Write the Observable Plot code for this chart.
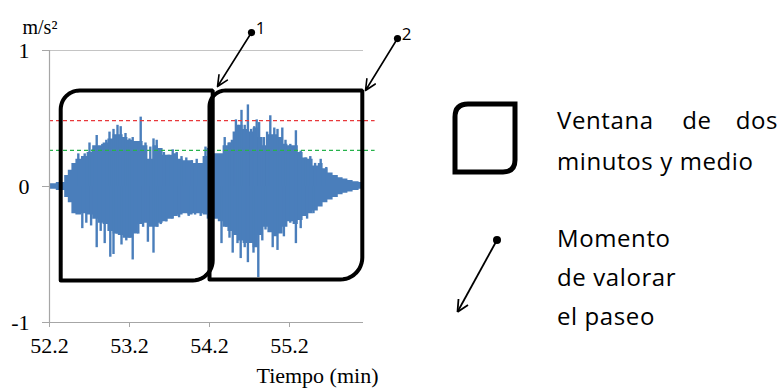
<!DOCTYPE html>
<html>
<head>
<meta charset="utf-8">
<script src="https://cdn.jsdelivr.net/npm/d3@7"></script>
<script src="https://cdn.jsdelivr.net/npm/@observablehq/plot@0.6"></script>
<style>
  html, body { margin: 0; padding: 0; background: #fff; }
  #wrap { position: relative; width: 779px; height: 388px; overflow: hidden; }
  #legend { position: absolute; left: 0; top: 0; pointer-events: none; }
</style>
</head>
<body>
<div id="wrap">
  <div id="chart"></div>
  <svg id="legend" width="779" height="388"></svg>
</div>
<script>
// ---------- data ----------
// envelope of the dense acceleration signal (minutes, m/s²)
const bodyTime = [52.2, 52.37, 52.41, 52.46, 52.5, 52.56, 52.64, 52.7, 52.78, 52.84, 52.9, 52.96, 53.03, 53.09, 53.15, 53.21, 53.28, 53.34, 53.4, 53.46, 53.53, 53.59, 53.65, 53.71, 53.78, 53.84, 53.9, 53.96, 54.03, 54.09, 54.15, 54.2,
                  54.28, 54.34, 54.4, 54.46, 54.53, 54.59, 54.65, 54.71, 54.78, 54.84, 54.9, 54.96, 55.03, 55.09, 55.15, 55.21, 55.28, 55.34, 55.4, 55.46, 55.53, 55.59, 55.65, 55.71, 55.78, 55.84, 55.9, 55.96, 56.03, 56.11, 56.12];
const bodyHigh = [0.02, 0.03, 0.08, 0.12, 0.17, 0.2, 0.22, 0.25, 0.3, 0.3, 0.32, 0.35, 0.38, 0.38, 0.36, 0.34, 0.33, 0.33, 0.3, 0.2, 0.3, 0.28, 0.23, 0.23, 0.24, 0.2, 0.19, 0.19, 0.17, 0.17, 0.22, 0.27,
                  0.24, 0.24, 0.3, 0.32, 0.4, 0.45, 0.42, 0.4, 0.43, 0.36, 0.3, 0.38, 0.38, 0.36, 0.31, 0.3, 0.3, 0.25, 0.21, 0.2, 0.15, 0.17, 0.13, 0.1, 0.08, 0.065, 0.055, 0.045, 0.035, 0.03, 0.03];
const bodyLow  = [-0.02, -0.03, -0.08, -0.12, -0.2, -0.21, -0.2, -0.21, -0.24, -0.27, -0.28, -0.33, -0.35, -0.36, -0.38, -0.38, -0.35, -0.28, -0.27, -0.3, -0.3, -0.27, -0.26, -0.24, -0.22, -0.21, -0.2, -0.21, -0.2, -0.2, -0.21, -0.23,
                  -0.24, -0.26, -0.3, -0.33, -0.36, -0.4, -0.42, -0.42, -0.45, -0.36, -0.3, -0.34, -0.37, -0.35, -0.3, -0.26, -0.28, -0.25, -0.22, -0.2, -0.18, -0.15, -0.12, -0.1, -0.08, -0.06, -0.05, -0.04, -0.03, -0.02, -0.02];

// individual peaks above zero
const peakUpTime  = [52.56, 52.64, 52.7, 52.74, 52.79, 52.86, 52.91, 52.95, 53.0, 53.05, 53.09, 53.15, 53.2, 53.24, 53.29, 53.34, 53.4, 53.46, 53.5, 53.54, 53.63, 53.69, 53.74, 53.79, 53.85, 53.91, 53.98, 54.04, 54.15, 54.18,
                     54.39, 54.45, 54.48, 54.53, 54.55, 54.6, 54.64, 54.68, 54.72, 54.76, 54.79, 54.82, 54.88, 54.92, 54.96, 55.01, 55.05, 55.11, 55.15, 55.21, 55.28, 55.34, 55.4, 55.46, 55.52, 55.59, 55.66];
const peakUpValue = [0.24, 0.24, 0.32, 0.27, 0.375, 0.31, 0.34, 0.40, 0.42, 0.45, 0.44, 0.39, 0.35, 0.36, 0.33, 0.51, 0.32, 0.29, 0.35, 0.34, 0.25, 0.23, 0.27, 0.25, 0.22, 0.21, 0.19, 0.2, 0.29, 0.28,
                     0.36, 0.32, 0.34, 0.49, 0.45, 0.56, 0.45, 0.6, 0.42, 0.44, 0.49, 0.47, 0.36, 0.4, 0.52, 0.43, 0.42, 0.43, 0.34, 0.31, 0.41, 0.26, 0.21, 0.22, 0.17, 0.2, 0.14];

// individual peaks below zero
const peakDownTime  = [52.61, 52.66, 52.72, 52.79, 52.84, 52.89, 52.96, 53.0, 53.04, 53.1, 53.16, 53.2, 53.24, 53.31, 53.37, 53.43, 53.5, 53.55, 53.59, 53.66, 53.74, 53.82, 53.94, 54.02, 54.09, 54.18,
                       54.35, 54.41, 54.45, 54.49, 54.55, 54.59, 54.64, 54.68, 54.75, 54.81, 54.86, 54.9, 54.99, 55.05, 55.13, 55.21, 55.28, 55.34, 55.42, 55.5];
const peakDownValue = [-0.31, -0.27, -0.29, -0.45, -0.33, -0.42, -0.52, -0.5, -0.35, -0.43, -0.4, -0.38, -0.54, -0.35, -0.3, -0.41, -0.49, -0.3, -0.28, -0.26, -0.24, -0.23, -0.22, -0.21, -0.22, -0.24,
                       -0.42, -0.3, -0.38, -0.49, -0.42, -0.53, -0.45, -0.56, -0.49, -0.67, -0.4, -0.32, -0.45, -0.47, -0.37, -0.27, -0.42, -0.31, -0.24, -0.2];

// reference thresholds
const thresholdValue = [0.485, 0.265];
const thresholdColor = ["#e8383b", "#26b24b"];

// two-and-a-half minute windows
const windowStart  = [52.34, 54.2];
const windowEnd    = [54.24, 56.11];
const windowTop    = [0.706, 0.706];
const windowBottom = [-0.691, -0.684];
const windowRadiusTL = [19, 16];   // corner rounding (px)
const windowRadiusBR = [20, 22];

// assessment moments (arrow from dot to window corner)
const momentLabel = ["1", "2"];
const momentFromT = [54.725, 56.55];
const momentFromV = [1.132, 1.088];
const momentToT   = [54.30, 56.15];
const momentToV   = [0.735, 0.706];

const xTicks = [52.2, 53.2, 54.2, 55.2];
const yTicks = [-1, 0, 1];

const legendWindowText = [["Ventana", "de", "dos"], "minutos y medio"];
const legendMomentText = ["Momento", "de valorar", "el paseo"];

// ---------- layout ----------
const W = 779, H = 388;
const mL = 49, mR = 416, mT = 50, mB = 66;
const xDomain = [52.2, 56.125], yDomain = [-1, 1];
const kx = (xDomain[1] - xDomain[0]) / (W - mL - mR);
const ky = (yDomain[1] - yDomain[0]) / (H - mT - mB);

const body = bodyTime.map((t, i) => ({t, hi: bodyHigh[i], lo: bodyLow[i]}));
const peaksUp = peakUpTime.map((t, i) => ({t, v: peakUpValue[i]}));
const peaksDown = peakDownTime.map((t, i) => ({t, v: peakDownValue[i]}));

function boxPoints(i) {
  const x0 = windowStart[i], x1 = windowEnd[i], y0 = windowBottom[i], y1 = windowTop[i];
  const r1 = windowRadiusTL[i], r2 = windowRadiusBR[i];
  const pts = [{x: x0, y: y0}];
  const c1x = x0 + r1 * kx, c1y = y1 - r1 * ky;
  for (let k = 0; k <= 12; k++) {
    const a = Math.PI - (k / 12) * Math.PI / 2;
    pts.push({x: c1x + Math.cos(a) * r1 * kx, y: c1y + Math.sin(a) * r1 * ky});
  }
  pts.push({x: x1, y: y1});
  const c2x = x1 - r2 * kx, c2y = y0 + r2 * ky;
  for (let k = 0; k <= 12; k++) {
    const a = -(k / 12) * Math.PI / 2;
    pts.push({x: c2x + Math.cos(a) * r2 * kx, y: c2y + Math.sin(a) * r2 * ky});
  }
  pts.push({x: x0, y: y0});
  pts.push({x: x0, y: y0 + 4 * ky});
  return pts.map(p => ({...p, id: i}));
}
const boxes = windowStart.flatMap((_, i) => boxPoints(i));

const moments = momentLabel.map((label, i) => ({
  label, x1: momentFromT[i], y1: momentFromV[i], x2: momentToT[i], y2: momentToV[i]
}));

const blue = "#4a7ebb";
const axisGray = "#a6a6a6";

const chart = Plot.plot({
  width: W, height: H,
  marginLeft: mL, marginRight: mR, marginTop: mT, marginBottom: mB,
  x: {domain: xDomain},
  y: {domain: yDomain},
  style: {fontFamily: "'Liberation Serif', 'Times New Roman', serif", fontSize: "22px", color: "black", background: "white", overflow: "visible"},
  marks: [
    Plot.ruleY([1], {stroke: "#c4c4c4", strokeWidth: 1.2}),
    Plot.areaY(body, {x: "t", y1: "lo", y2: "hi", fill: blue, curve: "step"}),
    Plot.ruleX(peaksUp, {x: "t", y1: 0, y2: "v", stroke: blue, strokeWidth: 2.4}),
    Plot.ruleX(peaksDown, {x: "t", y1: 0, y2: "v", stroke: blue, strokeWidth: 2.4}),
    Plot.ruleY(thresholdValue.map((v, i) => ({v, c: thresholdColor[i]})),
      {y: "v", x1: 52.2, x2: 56.27, stroke: "c", strokeWidth: 1.3, strokeDasharray: "4,3"}),
    Plot.ruleX([52.2], {stroke: axisGray, strokeWidth: 1.2}),
    Plot.ruleY([-1], {stroke: axisGray, strokeWidth: 1.2}),
    Plot.axisY({ticks: yTicks, tickFormat: d => String(d), tickSize: 7, tickPadding: 13, stroke: axisGray, label: null}),
    Plot.axisX({ticks: xTicks, tickFormat: d => d.toFixed(1), tickSize: 5, tickPadding: 10, stroke: axisGray, label: null}),
    Plot.line(boxes, {x: "x", y: "y", z: "id", stroke: "black", strokeWidth: 4, strokeLinejoin: "miter", curve: "linear"}),
    Plot.arrow(moments, {x1: "x1", y1: "y1", x2: "x2", y2: "y2", stroke: "black", strokeWidth: 1.6, headLength: 11, headAngle: 50}),
    Plot.dot(moments, {x: "x1", y: "y1", r: 3.6, fill: "black"}),
    Plot.text(moments, {x: "x1", y: "y1", text: "label", dx: 9, dy: -4, fontFamily: "'Open Sans', sans-serif", fontSize: 17, textAnchor: "middle"}),
    Plot.text(["m/s²"], {frameAnchor: "top-left", dx: -27, dy: -31, textAnchor: "start", fontSize: 20}),
    Plot.text(["Tiempo (min)"], {frameAnchor: "bottom-right", dx: 15, dy: 60, textAnchor: "end", fontSize: 22})
  ]
});
document.getElementById("chart").appendChild(chart);

// ---------- legend (right side) ----------
const lg = d3.select("#legend");
const sansFont = "'Open Sans', Lato, sans-serif";
lg.append("path")
  .attr("d", "M455,172 V117 Q455,104 468,104 H515 V160 Q515,172 503,172 Z")
  .attr("fill", "none").attr("stroke", "black").attr("stroke-width", 5).attr("stroke-linejoin", "miter");
lg.append("line").attr("x1", 497).attr("y1", 240).attr("x2", 458).attr("y2", 311)
  .attr("stroke", "black").attr("stroke-width", 1.8);
lg.append("path").attr("d", "M457.5,312 L458.5,299 M457.5,312 L468,305")
  .attr("stroke", "black").attr("stroke-width", 1.8).attr("fill", "none");
lg.append("circle").attr("cx", 497).attr("cy", 240).attr("r", 4).attr("fill", "black");

const t1 = legendWindowText[0];
const txt = (s, x, y, anchor) => lg.append("text").attr("x", x).attr("y", y)
  .attr("text-anchor", anchor).attr("font-family", sansFont).attr("font-size", 24)
  .attr("letter-spacing", "0.6px").attr("fill", "black").text(s);
txt(t1[0], 557, 129, "start");
txt(t1[1], 697, 129, "middle");
txt(t1[2], 778, 129, "end");
txt(legendWindowText[1], 557, 170, "start");
txt(legendMomentText[0], 557, 247, "start");
txt(legendMomentText[1], 557, 286, "start");
txt(legendMomentText[2], 557, 325, "start");
</script>
</body>
</html>
